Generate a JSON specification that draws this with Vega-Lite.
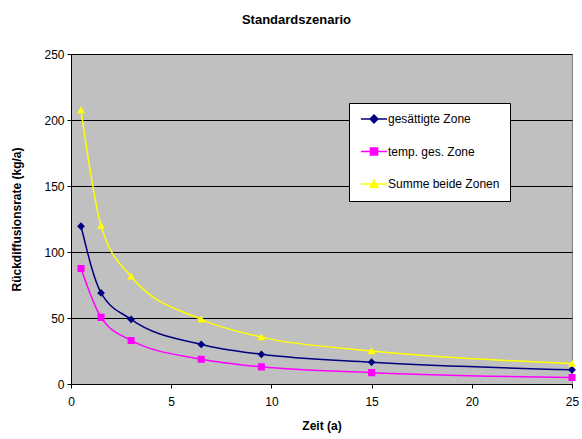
{
  "$schema": "https://vega.github.io/schema/vega-lite/v6.json",
  "width": 501,
  "height": 330,
  "autosize": {"type": "none"},
  "padding": {"left": 71, "top": 54, "right": 10, "bottom": 55},
  "background": "white",
  "title": {"text": "Standardszenario", "fontSize": 13, "font": "Liberation Sans", "fontWeight": "bold", "color": "black", "anchor": "middle", "frame": "group", "dx": -25, "offset": 11, "baseline": "alphabetic"},
  "config": {
    "view": {"fill": "#C0C0C0", "stroke": "#808080", "strokeWidth": 1},
    "font": "Liberation Sans"
  },
  "data": {"values": [
    {"t": 0.5, "s": "gesättigte Zone", "v": 119.5},
    {"t": 1.5, "s": "gesättigte Zone", "v": 69},
    {"t": 3, "s": "gesättigte Zone", "v": 49},
    {"t": 6.5, "s": "gesättigte Zone", "v": 30},
    {"t": 9.5, "s": "gesättigte Zone", "v": 22.5},
    {"t": 15, "s": "gesättigte Zone", "v": 16.5},
    {"t": 25, "s": "gesättigte Zone", "v": 10.8},
    {"t": 0.5, "s": "temp. ges. Zone", "v": 87.5},
    {"t": 1.5, "s": "temp. ges. Zone", "v": 50.5},
    {"t": 3, "s": "temp. ges. Zone", "v": 33},
    {"t": 6.5, "s": "temp. ges. Zone", "v": 18.8},
    {"t": 9.5, "s": "temp. ges. Zone", "v": 13},
    {"t": 15, "s": "temp. ges. Zone", "v": 8.6},
    {"t": 25, "s": "temp. ges. Zone", "v": 4.9},
    {"t": 0.5, "s": "Summe beide Zonen", "v": 207.5},
    {"t": 1.5, "s": "Summe beide Zonen", "v": 120},
    {"t": 3, "s": "Summe beide Zonen", "v": 81.5},
    {"t": 6.5, "s": "Summe beide Zonen", "v": 49},
    {"t": 9.5, "s": "Summe beide Zonen", "v": 35.5},
    {"t": 15, "s": "Summe beide Zonen", "v": 25},
    {"t": 25, "s": "Summe beide Zonen", "v": 15.5}
  ]},
  "encoding": {
    "x": {"field": "t", "type": "quantitative", "title": "Zeit (a)",
      "scale": {"domain": [0, 25], "nice": false, "zero": false},
      "axis": {"values": [0, 5, 10, 15, 20, 25], "grid": false, "domainColor": "black", "tickColor": "black", "tickSize": 4, "labelFontSize": 12, "labelColor": "black", "labelPadding": 8, "titleFontSize": 12, "titleFontWeight": "bold", "titleColor": "black", "titlePadding": 13, "labelFlush": false}},
    "y": {"field": "v", "type": "quantitative", "title": "Rückdiffusionsrate (kg/a)",
      "scale": {"domain": [0, 250], "nice": false},
      "axis": {"values": [0, 50, 100, 150, 200, 250], "grid": true, "gridColor": "black", "gridOpacity": 1, "gridWidth": 1, "domainColor": "black", "tickColor": "black", "tickSize": 4, "labelFontSize": 12, "labelColor": "black", "labelPadding": 3, "titleFontSize": 12, "titleFontWeight": "bold", "titleColor": "black", "titlePadding": 20}},
    "color": {"field": "s", "type": "nominal",
      "scale": {"domain": ["gesättigte Zone", "temp. ges. Zone", "Summe beide Zonen"], "range": ["#000080", "#FF00FF", "#FFFF00"]},
      "legend": {"title": null, "orient": "none", "legendX": 278, "legendY": 49, "fillColor": "white", "strokeColor": "black", "padding": 10, "labelFontSize": 12, "labelColor": "black", "labelFont": "Liberation Sans", "symbolSize": 50, "symbolOffset": 9, "labelOffset": 8, "rowPadding": 18.5, "symbolStrokeWidth": 1.5,
        "encode": {"symbols": {"update": {"stroke": {"scale": "color", "field": "value"}, "fill": {"scale": "color", "field": "value"}, "strokeWidth": {"value": 1.5}, "opacity": {"value": 1}}}}}}
  },
  "layer": [
    {"mark": {"type": "line", "interpolate": "monotone", "strokeWidth": 1.5}},
    {"mark": {"type": "point", "filled": true, "opacity": 1, "size": 50, "strokeWidth": 0},
     "encoding": {
       "shape": {"field": "s", "type": "nominal",
         "scale": {"domain": ["gesättigte Zone", "temp. ges. Zone", "Summe beide Zonen"],
           "range": ["M-3.7,0H3.7M0,-1.1L1.1,0L0,1.1L-1.1,0Z", "M-3.7,0H3.7M-1,-1H1V1H-1Z", "M-3.7,0H3.7M0,-1.1L1.1,0.9H-1.1Z"]}}
     }}
  ]
}
